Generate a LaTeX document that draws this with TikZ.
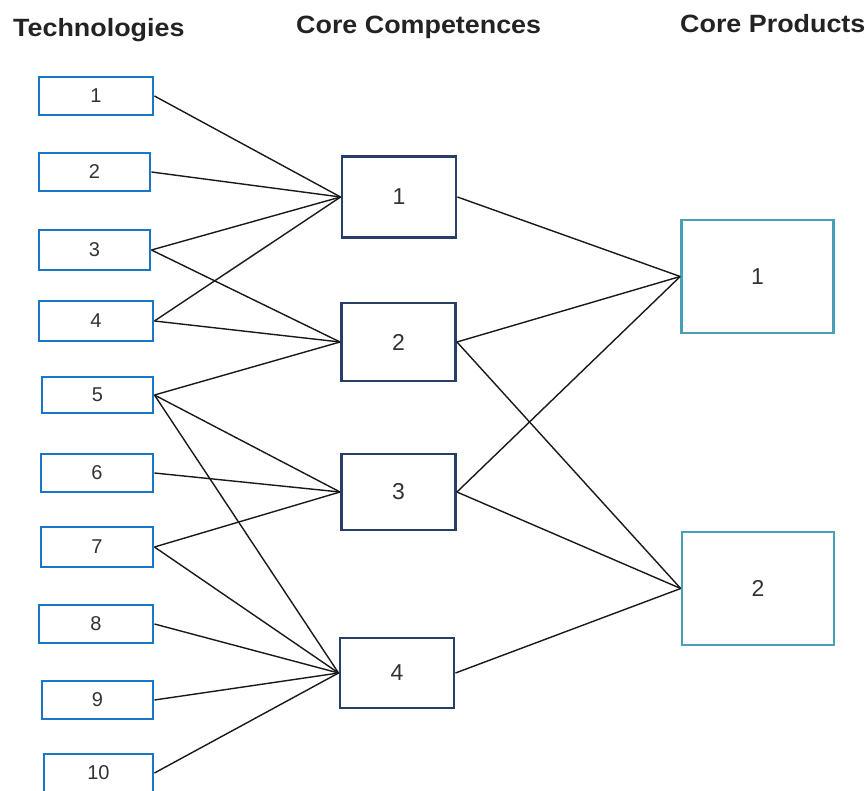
\documentclass[tikz,border=0pt]{standalone}
\usepackage{fontspec}
\setmainfont{Liberation Sans}
\newfontfamily\headfont[FakeStretch=1.075]{Liberation Sans}
\definecolor{techblue}{RGB}{25,118,200}
\definecolor{corenavy}{RGB}{40,62,105}
\definecolor{prodteal}{RGB}{72,160,182}
\definecolor{txt}{RGB}{35,35,35}
\definecolor{numtxt}{RGB}{50,50,50}
\begin{document}
\begin{tikzpicture}[x=1pt,y=-1pt,
  tech/.style={draw=techblue,line width=2.9pt,rectangle,inner sep=0pt,text=numtxt,font=\fontsize{20}{24}\selectfont},
  core/.style={draw=corenavy,line width=2.9pt,rectangle,inner sep=0pt,minimum width=114pt,text=numtxt,font=\fontsize{23}{27}\selectfont},
  prod/.style={draw=prodteal,line width=2.6pt,rectangle,inner sep=0pt,minimum width=152pt,minimum height=113pt,text=numtxt,font=\fontsize{23}{27}\selectfont},
  head/.style={anchor=base west,inner sep=0pt,text=txt,font=\headfont\fontsize{25}{29}\selectfont\bfseries},
  link/.style={draw=black!90,line width=1.4pt}]
\useasboundingbox (0,0) rectangle (865,791);
% headers
\node[head] (h1) at (13,37) {Technologies};
\node[head] (h2) at (296,34) {Core Competences};
\node[head] (h3) at (680,33) {Core Products};
% technologies
\node[tech,minimum width=114pt,minimum height=38pt] (t1) at (96,96) {1};
\node[tech,minimum width=111pt,minimum height=38pt] (t2) at (94.5,172) {2};
\node[tech,minimum width=111pt,minimum height=40pt] (t3) at (94.5,250) {3};
\node[tech,minimum width=114pt,minimum height=40pt] (t4) at (96,321) {4};
\node[tech,minimum width=111pt,minimum height=36pt] (t5) at (97.5,395) {5};
\node[tech,minimum width=112pt,minimum height=38pt] (t6) at (97,473) {6};
\node[tech,minimum width=112pt,minimum height=40pt] (t7) at (97,547) {7};
\node[tech,minimum width=114pt,minimum height=38pt] (t8) at (96,624) {8};
\node[tech,minimum width=111pt,minimum height=38pt] (t9) at (97.5,700) {9};
\node[tech,minimum width=109pt,minimum height=38pt] (t10) at (98.5,773) {10};
% core competences
\node[core,minimum height=81pt] (c1) at (399,197) {1};
\node[core,minimum height=78pt] (c2) at (398.5,342) {2};
\node[core,minimum height=76pt] (c3) at (398.5,492) {3};
\node[core,minimum height=70pt] (c4) at (397,673) {4};
% core products
\node[prod] (p1) at (757.5,276.5) {1};
\node[prod] (p2) at (758,588.5) {2};
% technologies -> competences
\draw[link] (t1.east) -- (c1.west);
\draw[link] (t2.east) -- (c1.west);
\draw[link] (t3.east) -- (c1.west);
\draw[link] (t3.east) -- (c2.west);
\draw[link] (t4.east) -- (c1.west);
\draw[link] (t4.east) -- (c2.west);
\draw[link] (t5.east) -- (c2.west);
\draw[link] (t5.east) -- (c3.west);
\draw[link] (t5.east) -- (c4.west);
\draw[link] (t6.east) -- (c3.west);
\draw[link] (t7.east) -- (c3.west);
\draw[link] (t7.east) -- (c4.west);
\draw[link] (t8.east) -- (c4.west);
\draw[link] (t9.east) -- (c4.west);
\draw[link] (t10.east) -- (c4.west);
% competences -> products
\draw[link] (c1.east) -- (p1.west);
\draw[link] (c2.east) -- (p1.west);
\draw[link] (c2.east) -- (p2.west);
\draw[link] (c3.east) -- (p1.west);
\draw[link] (c3.east) -- (p2.west);
\draw[link] (c4.east) -- (p2.west);
\end{tikzpicture}
\end{document}
